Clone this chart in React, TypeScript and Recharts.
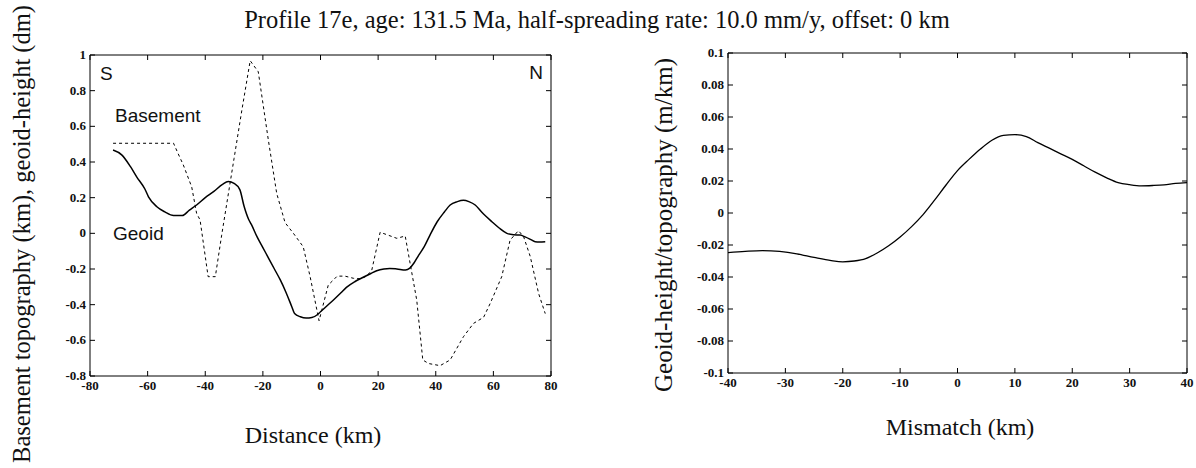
import React from "react";
import { LineChart, Line, XAxis, YAxis } from "recharts";

// Left panel: geoid (dm) and basement topography (km) along the profile
const geoidKm = [
  -72, -69, -66, -63.8, -61, -59.7, -56.8, -54, -51, -48, -45.5, -43, -40, -37, -34, -32, -30, -28,
  -26.5, -25, -24, -22, -20, -18, -16, -14, -12, -10, -9, -7, -5, -3, -1, 0, 2, 4.5, 7, 9, 12, 15,
  17.5, 19.5, 22, 24, 26.5, 29.5, 31, 32.5, 34, 36, 38, 40.5, 43, 45, 47.5, 49.6, 51.5, 53.7, 56,
  59.5, 62, 64.7, 67, 69.3, 71, 73, 74.5, 76, 78,
];
const geoidDm = [
  0.467, 0.44, 0.375, 0.317, 0.25, 0.205, 0.149, 0.12, 0.1, 0.1, 0.13, 0.159, 0.2, 0.235, 0.275,
  0.29, 0.28, 0.245, 0.15, 0.08, 0.05, -0.02, -0.08, -0.14, -0.2, -0.26, -0.33, -0.41, -0.45, -0.468,
  -0.475, -0.472, -0.455, -0.44, -0.41, -0.374, -0.335, -0.303, -0.27, -0.245, -0.225, -0.21, -0.2,
  -0.197, -0.2, -0.206, -0.195, -0.165, -0.125, -0.075, -0.01, 0.065, 0.12, 0.159, 0.178, 0.185,
  0.178, 0.159, 0.118, 0.065, 0.03, 0.0, -0.008, -0.01, -0.02, -0.035, -0.047, -0.048, -0.047,
];
const basementKm = [
  -72, -51, -49.5, -47.6, -44.7, -43, -41.8, -39, -36.5, -34.3, -30, -27.3, -24.4, -21.6, -18.1,
  -15.2, -12.3, -9.4, -6, -3.6, -0.5, 2.7, 5.8, 8.5, 11.4, 14, 16, 17.8, 20.7, 26.5, 29.4, 31.1,
  33.4, 35.5, 37.5, 41.5, 45, 49.6, 53.1, 56.6, 58.9, 62.9, 65.8, 68.7, 70.5, 72.8, 75.7, 78,
];
const basementTopo = [
  0.505, 0.505, 0.45, 0.383, 0.26, 0.112, 0.075, -0.243, -0.243, -0.01, 0.42, 0.69, 0.968, 0.906,
  0.523, 0.224, 0.06, 0.0, -0.075, -0.243, -0.49, -0.29, -0.24, -0.24, -0.252, -0.255, -0.24,
  -0.206, 0.006, -0.028, -0.015, -0.168, -0.374, -0.71, -0.73, -0.742, -0.71, -0.58, -0.505,
  -0.471, -0.393, -0.243, -0.038, 0.015, -0.019, -0.13, -0.337, -0.45,
];
const distanceTicks = [-80, -60, -40, -20, 0, 20, 40, 60, 80];
const heightTicks = [1, 0.8, 0.6, 0.4, 0.2, 0, -0.2, -0.4, -0.6, -0.8];

// Right panel: geoid-height / topography ratio against mismatch
const mismatchKm = [
  -40, -37, -34, -31, -28, -25, -22, -20, -18, -16, -14, -12, -10, -8, -6, -4, -2, 0, 2, 4, 6, 8,
  10, 12, 14, 16, 18, 20, 22, 24, 26, 28, 30, 32, 34, 36, 38, 40,
];
const ratioMPerKm = [
  -0.0248, -0.024, -0.0235, -0.024, -0.0255, -0.0278, -0.0298, -0.0305, -0.030, -0.0285, -0.025,
  -0.0205, -0.015, -0.0085, -0.001, 0.008, 0.0175, 0.0265, 0.0335, 0.040, 0.0455, 0.0485, 0.049,
  0.0478, 0.044, 0.0405, 0.037, 0.0335, 0.0295, 0.0255, 0.022, 0.019, 0.0177, 0.017, 0.0172,
  0.0176, 0.0185, 0.019,
];
const mismatchTicks = [-40, -30, -20, -10, 0, 10, 20, 30, 40];
const ratioTicks = [0.1, 0.08, 0.06, 0.04, 0.02, 0, -0.02, -0.04, -0.06, -0.08, -0.1];

const geoid = geoidKm.map((x, i) => ({ x, y: geoidDm[i] }));
const basement = basementKm.map((x, i) => ({ x, y: basementTopo[i] }));
const ratio = mismatchKm.map((x, i) => ({ x, y: ratioMPerKm[i] }));

const TICK_LEN = 5;
const serif = "'Liberation Serif', 'Times New Roman', serif";
const sans = "'Liberation Sans', Arial, sans-serif";
const tickText = { fontFamily: serif, fontSize: 13, fontWeight: 700, fill: "#111" };

// inward ticks, matlab style
const BottomTick = ({ x, y, payload }: any) => (
  <g>
    <line x1={x} x2={x} y1={y} y2={y - TICK_LEN} stroke="#000" />
    <text x={x} y={y + 14} textAnchor="middle" {...tickText}>
      {payload.value}
    </text>
  </g>
);
const TopTick = ({ x, y }: any) => (
  <line x1={x} x2={x} y1={y} y2={y + TICK_LEN} stroke="#000" />
);
const LeftTick = ({ x, y, payload }: any) => (
  <g>
    <line x1={x} x2={x + TICK_LEN} y1={y} y2={y} stroke="#000" />
    <text x={x - 4} y={y + 4} textAnchor="end" {...tickText}>
      {payload.value}
    </text>
  </g>
);
const RightTick = ({ x, y }: any) => (
  <line x1={x} x2={x - TICK_LEN} y1={y} y2={y} stroke="#000" />
);

// axes take 1px so they still render; ticks are drawn by the tick components
const axisCommon = {
  type: "number" as const,
  tickSize: 0,
  tickMargin: 0,
  tickLine: false,
  interval: 0 as const,
  stroke: "#000",
  allowDataOverflow: true,
};

export default function App() {
  return (
    <div
      style={{
        position: "absolute",
        left: 0,
        top: 0,
        width: 1196,
        height: 468,
        background: "#fff",
        overflow: "hidden",
      }}
    >
      <div style={{ position: "absolute", left: 0, top: 0 }}>
        <LineChart width={600} height={468} margin={{ top: 54, right: 48, bottom: 91, left: 89 }}>
          <XAxis
            {...axisCommon}
            xAxisId="b"
            dataKey="x"
            domain={[-80, 80]}
            ticks={distanceTicks}
            height={1}
            tick={<BottomTick />}
          />
          <XAxis
            {...axisCommon}
            xAxisId="t"
            orientation="top"
            dataKey="x"
            domain={[-80, 80]}
            ticks={distanceTicks}
            height={1}
            tick={<TopTick />}
          />
          <YAxis
            {...axisCommon}
            yAxisId="l"
            domain={[-0.8, 1]}
            ticks={heightTicks}
            width={1}
            tick={<LeftTick />}
          />
          <YAxis
            {...axisCommon}
            yAxisId="r"
            orientation="right"
            domain={[-0.8, 1]}
            ticks={heightTicks}
            width={1}
            tick={<RightTick />}
          />
          <Line
            xAxisId="b"
            yAxisId="l"
            data={basement}
            dataKey="y"
            type="linear"
            dot={false}
            stroke="#000"
            strokeWidth={1}
            strokeDasharray="3 3"
            isAnimationActive={false}
          />
          <Line
            xAxisId="b"
            yAxisId="l"
            data={geoid}
            dataKey="y"
            type="monotone"
            dot={false}
            stroke="#000"
            strokeWidth={1.5}
            isAnimationActive={false}
          />
        </LineChart>
      </div>

      <div style={{ position: "absolute", left: 600, top: 0 }}>
        <LineChart width={596} height={468} margin={{ top: 52, right: 8, bottom: 94, left: 127 }}>
          <XAxis
            {...axisCommon}
            xAxisId="b"
            dataKey="x"
            domain={[-40, 40]}
            ticks={mismatchTicks}
            height={1}
            tick={<BottomTick />}
          />
          <XAxis
            {...axisCommon}
            xAxisId="t"
            orientation="top"
            dataKey="x"
            domain={[-40, 40]}
            ticks={mismatchTicks}
            height={1}
            tick={<TopTick />}
          />
          <YAxis
            {...axisCommon}
            yAxisId="l"
            domain={[-0.1, 0.1]}
            ticks={ratioTicks}
            width={1}
            tick={<LeftTick />}
          />
          <YAxis
            {...axisCommon}
            yAxisId="r"
            orientation="right"
            domain={[-0.1, 0.1]}
            ticks={ratioTicks}
            width={1}
            tick={<RightTick />}
          />
          <Line
            xAxisId="b"
            yAxisId="l"
            data={ratio}
            dataKey="y"
            type="monotone"
            dot={false}
            stroke="#000"
            strokeWidth={1.3}
            isAnimationActive={false}
          />
        </LineChart>
      </div>

      {/* titles, axis labels and in-plot annotations */}
      <svg
        width={1196}
        height={468}
        style={{ position: "absolute", left: 0, top: 0, pointerEvents: "none" }}
      >
        <g fontFamily={serif} fill="#111">
          <text x={597} y={28} textAnchor="middle" fontSize={24.5}>
            Profile 17e, age: 131.5 Ma, half-spreading rate: 10.0 mm/y, offset: 0 km
          </text>
          <text x={313} y={443} textAnchor="middle" fontSize={24}>
            Distance (km)
          </text>
          <text x={960} y={435} textAnchor="middle" fontSize={24}>
            Mismatch (km)
          </text>
          <text transform="translate(30,234) rotate(-90)" textAnchor="middle" fontSize={24.5}>
            Basement topography (km), geoid-height (dm)
          </text>
          <text transform="translate(672,225) rotate(-90)" textAnchor="middle" fontSize={25}>
            Geoid-height/topography (m/km)
          </text>
        </g>
        <g fontFamily={sans} fill="#111" fontSize={19}>
          <text x={100} y={80}>S</text>
          <text x={543} y={79} textAnchor="end">N</text>
          <text x={115} y={122}>Basement</text>
          <text x={113} y={240}>Geoid</text>
        </g>
      </svg>
    </div>
  );
}
